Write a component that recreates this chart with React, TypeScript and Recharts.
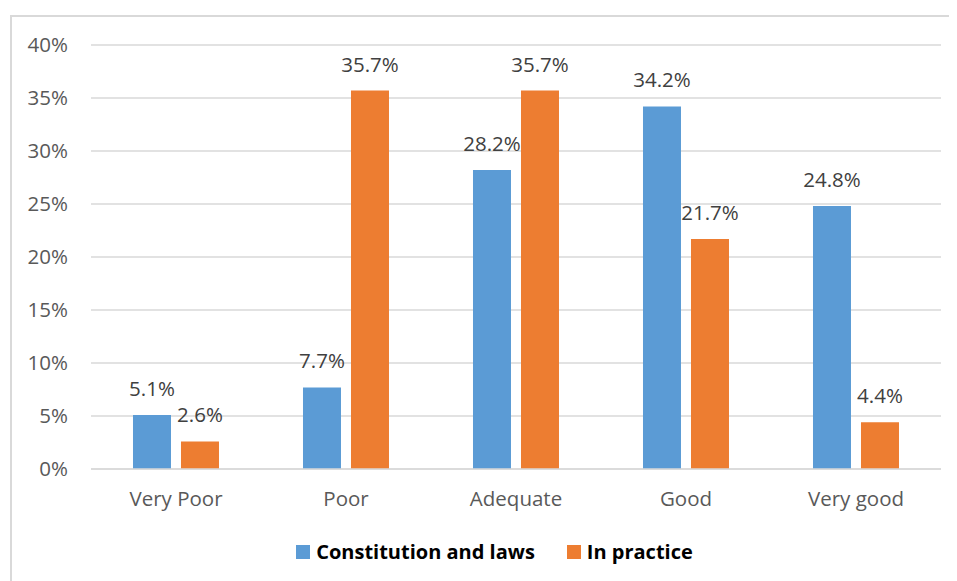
import React from 'react';
import { BarChart, Bar, XAxis, YAxis, CartesianGrid, Legend, LabelList } from 'recharts';

const categories = ['Very Poor', 'Poor', 'Adequate', 'Good', 'Very good'];
const constitutionAndLaws = [5.1, 7.7, 28.2, 34.2, 24.8];
const inPractice = [2.6, 35.7, 35.7, 21.7, 4.4];
const yTicks = [0, 5, 10, 15, 20, 25, 30, 35, 40];

const BLUE = '#5B9BD5';
const ORANGE = '#ED7D31';
const GRID = '#D9D9D9';
const FONT = '"Open Sans", "Noto Sans", sans-serif';

const data = categories.map((name, i) => ({
  name,
  laws: constitutionAndLaws[i],
  practice: inPractice[i],
}));

const legendItems = [
  { label: 'Constitution and laws', color: BLUE },
  { label: 'In practice', color: ORANGE },
];

const renderLegend = () => (
  <div style={{ display: 'flex', justifyContent: 'center', alignItems: 'center', gap: 32 }}>
    {legendItems.map((item) => (
      <div key={item.label} style={{ display: 'flex', alignItems: 'center', gap: 6 }}>
        <span style={{ width: 14, height: 14, background: item.color, display: 'inline-block' }} />
        <span style={{ fontSize: 20, fontWeight: 700, color: '#000', lineHeight: '28px' }}>{item.label}</span>
      </div>
    ))}
  </div>
);

const pct = (v: number) => `${v}%`;
const pct1 = (v: any) => `${Number(v).toFixed(1)}%`;

const App: React.FC = () => {
  return (
    <div style={{ position: 'relative', width: 949, height: 573, overflow: 'hidden', fontFamily: FONT, background: '#fff' }}>
      <div
        style={{
          position: 'absolute',
          left: 2,
          top: 7,
          width: 1000,
          height: 700,
          border: `2px solid ${GRID}`,
          boxSizing: 'border-box',
        }}
      />
      <div style={{ position: 'absolute', left: 0, top: 0 }}>
        <BarChart
          width={949}
          height={573}
          data={data}
          margin={{ top: 37, right: 16, bottom: 52, left: 0 }}
          barCategoryGap="24.7%"
          barGap={10}
        >
          <CartesianGrid vertical={false} stroke={GRID} strokeWidth={1.5} />
          <XAxis
            dataKey="name"
            height={60}
            tickLine={false}
            tickSize={0}
            tickMargin={22}
            axisLine={{ stroke: GRID, strokeWidth: 1.5 }}
            tick={{ fill: '#595959', fontSize: 20.5 }}
          />
          <YAxis
            width={83}
            domain={[0, 40]}
            ticks={yTicks}
            tickFormatter={pct}
            axisLine={false}
            tickLine={false}
            tickSize={0}
            tickMargin={23}
            tick={{ fill: '#595959', fontSize: 20.5 }}
          />
          <Legend
            layout="horizontal"
            verticalAlign="middle"
            align="center"
            content={renderLegend}
            wrapperStyle={{ top: 530, left: 12, width: 949 }}
          />
          <Bar dataKey="laws" name="Constitution and laws" fill={BLUE} isAnimationActive={false}>
            <LabelList dataKey="laws" position="top" offset={19} formatter={pct1} fill="#404040" fontSize={20.5} />
          </Bar>
          <Bar dataKey="practice" name="In practice" fill={ORANGE} isAnimationActive={false}>
            <LabelList dataKey="practice" position="top" offset={19} formatter={pct1} fill="#404040" fontSize={20.5} />
          </Bar>
        </BarChart>
      </div>
    </div>
  );
};

export default App;
